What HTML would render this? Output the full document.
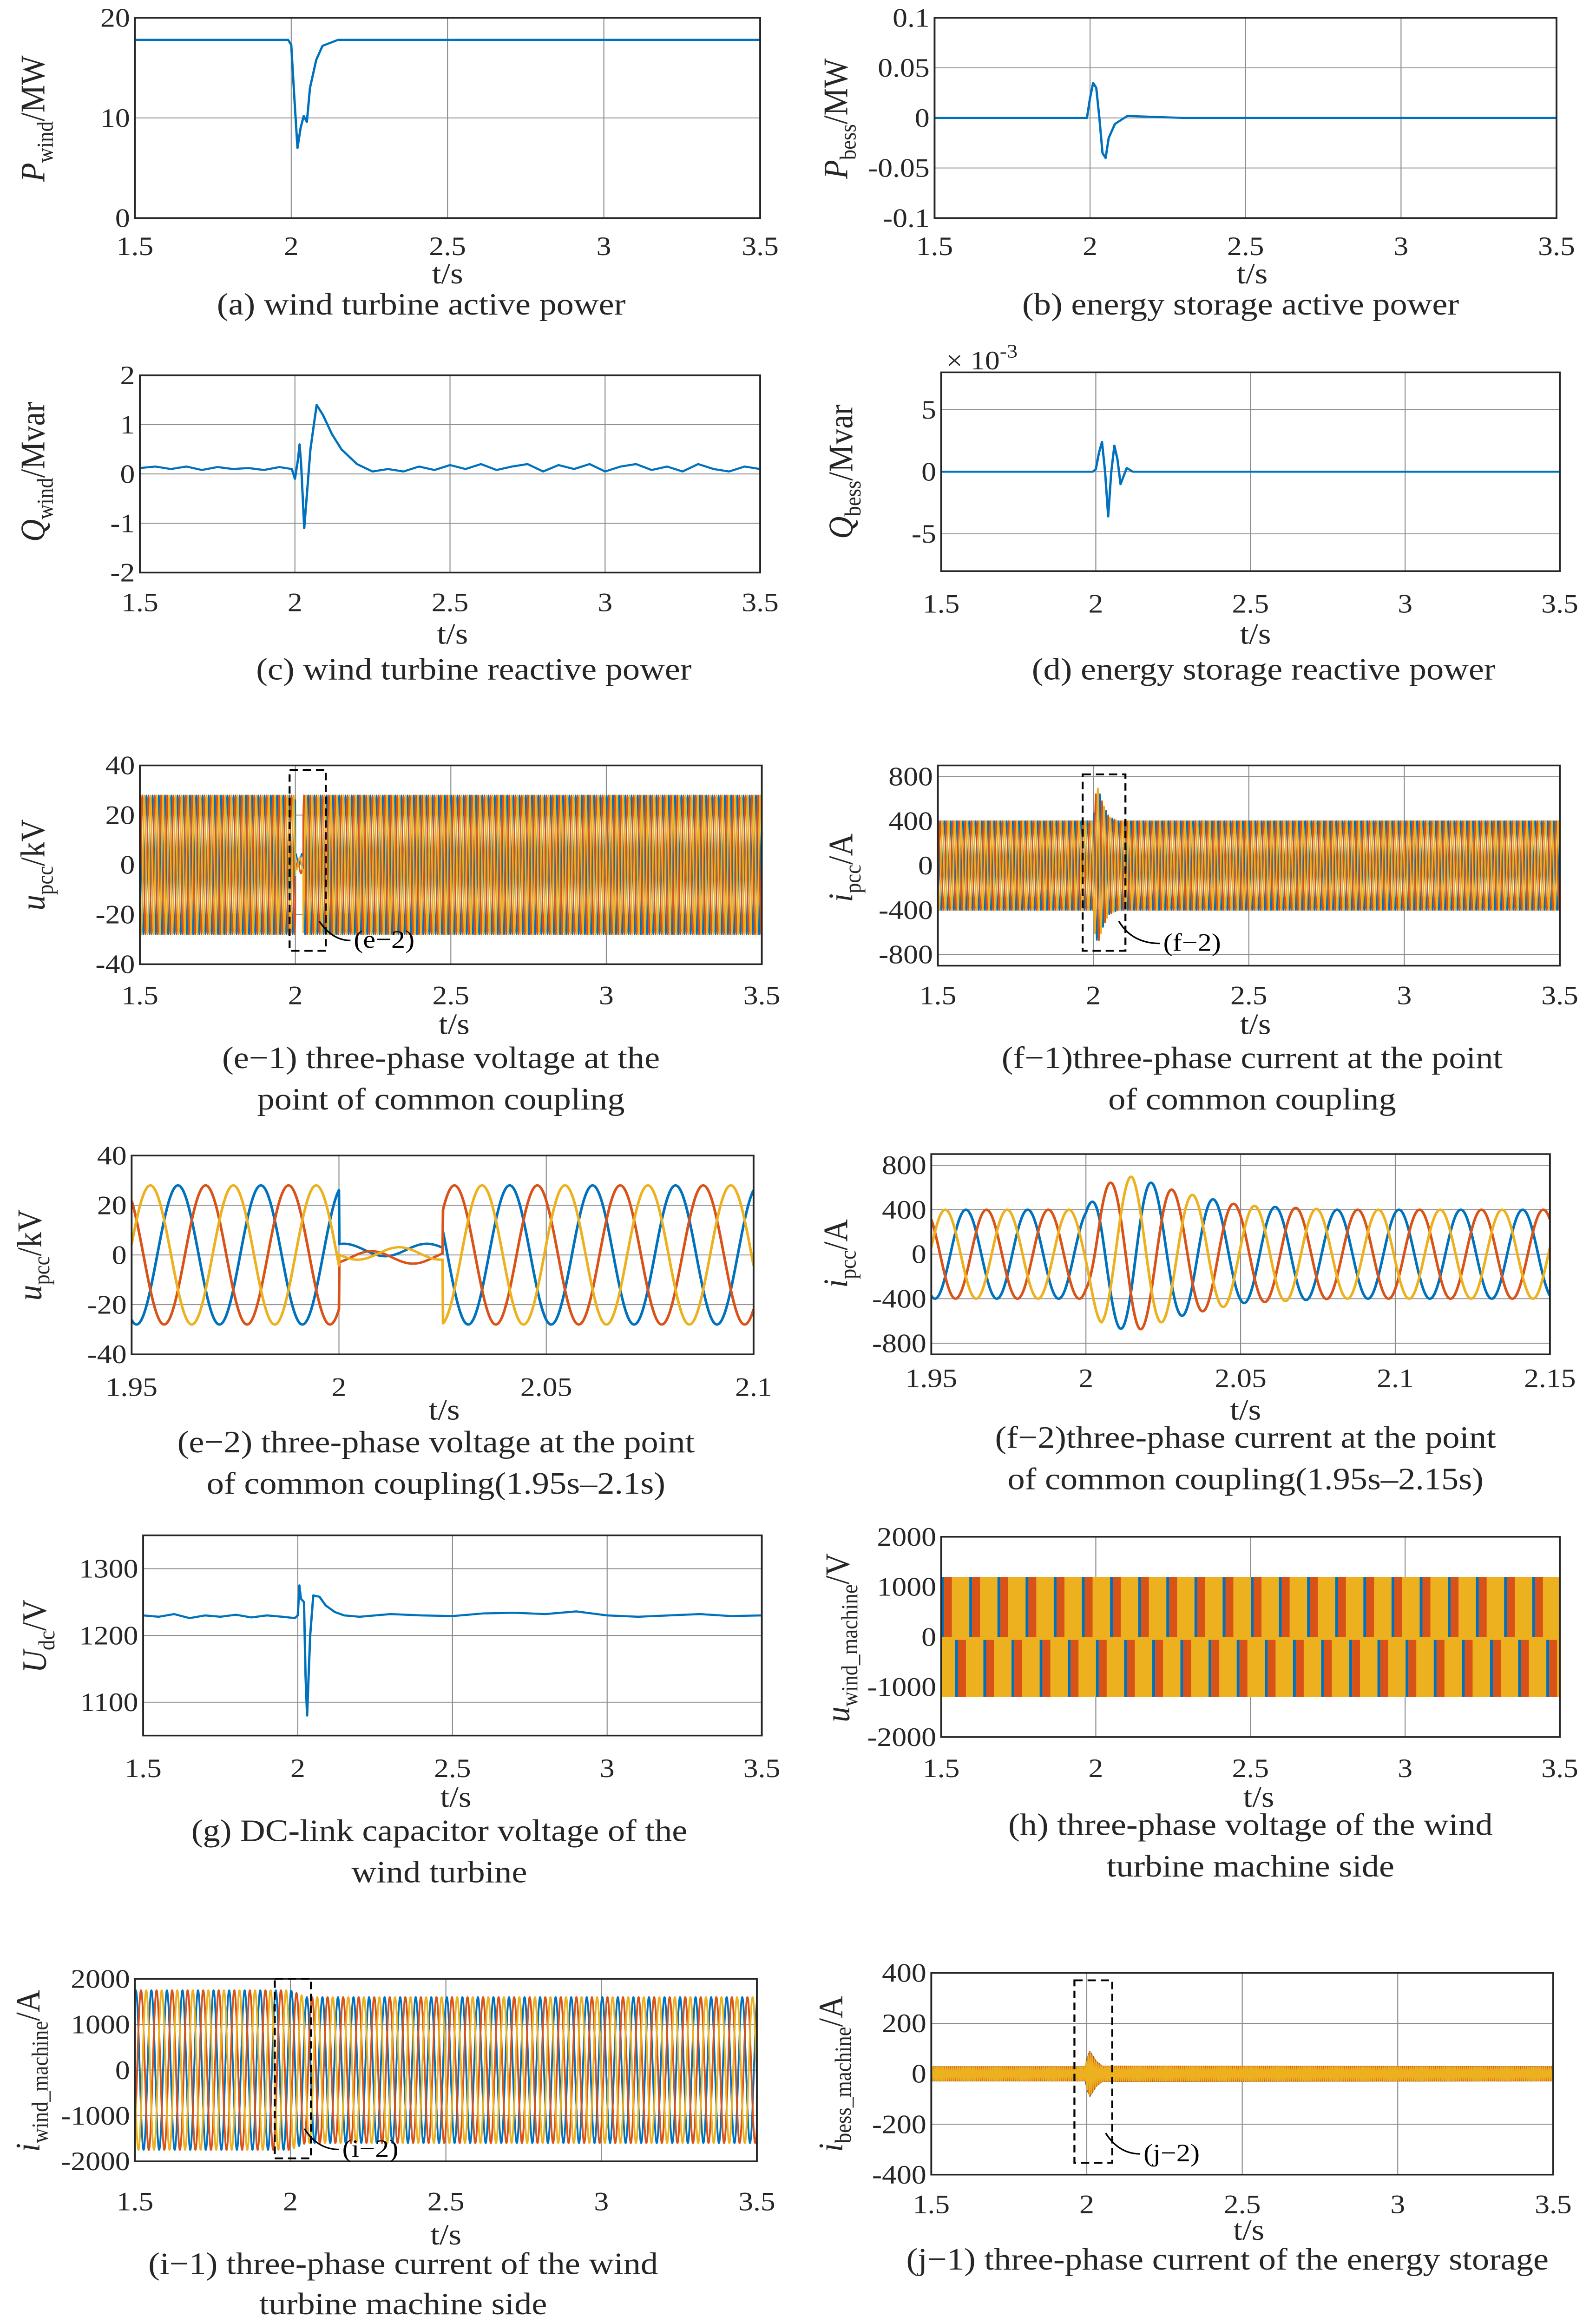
<!DOCTYPE html>
<html><head><meta charset="utf-8"><style>
html,body{margin:0;padding:0;background:#fff;width:100%;height:100%;overflow:hidden}
svg{display:block;position:fixed;left:0;top:0;width:100vw;height:100vh;font-family:"Liberation Serif",serif}
</style></head><body>
<svg id="fig" xmlns="http://www.w3.org/2000/svg" viewBox="0 0 970 1566" preserveAspectRatio="none"></svg>
<script>
// ---------- data ----------
const xTicks15_35 = [1.5, 2, 2.5, 3, 3.5];
const xTicksE2 = [1.95, 2, 2.05, 2.1];
const xTicksF2 = [1.95, 2, 2.05, 2.1, 2.15];
// (a)
const aT = [1.5, 1.99, 2.0, 2.01, 2.02, 2.03, 2.04, 2.05, 2.06, 2.08, 2.1, 2.15, 3.5];
const aV = [17.8, 17.8, 17.3, 12, 7, 9, 10.2, 9.6, 13, 15.8, 17.2, 17.8, 17.8];
// (b)
const bT = [1.5, 1.99, 2.0, 2.01, 2.02, 2.03, 2.04, 2.05, 2.06, 2.08, 2.12, 2.3, 3.5];
const bV = [0, 0, 0.02, 0.035, 0.03, 0, -0.035, -0.04, -0.02, -0.006, 0.002, 0, 0];
// (c)
const cT = [1.5,1.55,1.6,1.65,1.7,1.75,1.8,1.85,1.9,1.95,1.99,2.0,2.01,2.015,2.02,2.03,2.04,2.05,2.07,2.09,2.12,2.15,2.2,2.25,2.3,2.35,2.4,2.45,2.5,2.55,2.6,2.65,2.7,2.75,2.8,2.85,2.9,2.95,3.0,3.05,3.1,3.15,3.2,3.25,3.3,3.35,3.4,3.45,3.5];
const cV = [0.12,0.15,0.1,0.15,0.08,0.14,0.1,0.12,0.08,0.14,0.1,-0.1,0.3,0.6,0.2,-1.1,-0.3,0.5,1.4,1.2,0.8,0.5,0.2,0.05,0.1,0.05,0.15,0.08,0.18,0.1,0.2,0.08,0.15,0.2,0.05,0.18,0.1,0.2,0.05,0.15,0.2,0.08,0.15,0.05,0.2,0.1,0.05,0.15,0.1];
// (d) x 1e-3
const dT = [1.5, 1.99, 2.0, 2.01, 2.02, 2.03, 2.04, 2.05, 2.06, 2.07, 2.08, 2.1, 2.12, 3.5];
const dV = [0, 0, 0.2, 1.5, 2.4, 0, -3.6, 0, 2.1, 1.0, -1.0, 0.3, 0, 0];
// (g)
const gT = [1.5,1.55,1.6,1.65,1.7,1.75,1.8,1.85,1.9,1.95,1.99,2.0,2.005,2.01,2.02,2.025,2.03,2.04,2.05,2.07,2.09,2.12,2.15,2.2,2.3,2.4,2.5,2.6,2.7,2.8,2.9,3.0,3.1,3.2,3.3,3.4,3.5];
const gV = [1230,1228,1232,1226,1230,1228,1231,1227,1230,1228,1226,1230,1275,1255,1250,1140,1080,1200,1260,1258,1245,1235,1230,1228,1232,1230,1229,1233,1234,1232,1236,1230,1228,1230,1232,1229,1230];
// (e) three-phase voltage, kV
const eFreq = 50;
const eAmpT = [1.5, 2.0, 2.0001, 2.025, 2.0251, 3.5];
const eAmpV = [28, 28, 2.5, 2.5, 28, 28];
const eOffV = [0, 0, 2, 2, 0, 0];
// (f) three-phase current, A
const fFreq = 50;
const fAmpT = [1.5, 2.0, 2.005, 2.015, 2.03, 2.05, 2.08, 3.5];
const fAmpV = [400, 400, 620, 700, 560, 440, 400, 400];
// (h) machine voltage stripes
const hLevel = 1200;
const hPeriod = 0.091;
const hBlueFrac = 0.1;
const hOrangeFrac = 0.28;
// (i) machine current
const iFreq = 20;
const iAmpT = [1.5, 2.0, 2.05, 3.5];
const iAmpV = [1750, 1750, 1600, 1600];
// (j) storage current
const jFreq = 150;
const jAmpT = [1.5, 1.995, 2.0, 2.01, 2.03, 2.05, 3.5];
const jAmpV = [28, 28, 60, 90, 50, 30, 28];

// ---------- helpers ----------
const NS = "http://www.w3.org/2000/svg";
const svg = document.getElementById('fig');
const C = ['#0072BD', '#D95319', '#EDB120'];
function mk(tag, attrs, parent) {
  const e = document.createElementNS(NS, tag);
  for (const k in attrs) e.setAttribute(k, attrs[k]);
  (parent || svg).appendChild(e);
  return e;
}
function interp(T, V, t) {
  if (t <= T[0]) return V[0];
  for (let i = 1; i < T.length; i++) if (t <= T[i]) { const f = (t - T[i-1]) / (T[i] - T[i-1]); return V[i-1] + f * (V[i] - V[i-1]); }
  return V[V.length - 1];
}
function fmt(v) { return String(v); }
function panel(o) {
  const g = mk('g', {});
  
  
  const [x0, x1, y0, y1] = o.box;
  const sx = t => x0 + (t - o.xr[0]) / (o.xr[1] - o.xr[0]) * (x1 - x0);
  const sy = v => y1 - (v - o.yr[0]) / (o.yr[1] - o.yr[0]) * (y1 - y0);
  const grid = mk('g', {}, g);
  
  
  o.xt.forEach(t => mk('line', {x1: sx(t), x2: sx(t), y1: y0, y2: y1, stroke: '#8c8c8c', 'stroke-width': 0.6}, grid));
  o.yt.forEach(v => mk('line', {x1: x0, x2: x1, y1: sy(v), y2: sy(v), stroke: '#8c8c8c', 'stroke-width': 0.6}, grid));
  const clipId = 'clip' + o.name;
  const cp = mk('clipPath', {id: clipId}, g);
  mk('rect', {x: x0, y: y0, width: x1 - x0, height: y1 - y0}, cp);
  const plot = mk('g', {'clip-path': 'url(#' + clipId + ')'}, g);
  
  
  o.draw(plot, sx, sy);
  mk('rect', {x: x0, y: y0, width: x1 - x0, height: y1 - y0, fill: 'none', stroke: '#262626', 'stroke-width': 1.1}, g);
  const xl = mk('g', {'font-size': 18, 'text-anchor': 'middle', fill: '#262626'}, g);
  
  
  o.xt.forEach(t => { const tx = mk('text', {x: sx(t), y: o.xty}, xl); tx.textContent = fmt(t); });
  const yl = mk('g', {'font-size': 18, 'text-anchor': 'end', fill: '#262626'}, g);
  
  
  o.yt.forEach((v, i) => { const tx = mk('text', {x: x0 - 3, y: sy(v) + 6}, yl); tx.textContent = o.ytl ? o.ytl[i] : fmt(v); });
  const xt = mk('text', {x: o.xlab[0], y: o.xlab[1], 'font-size': 20, 'text-anchor': 'middle', fill: '#262626'}, g);
  
  
  xt.textContent = 't/s';
  const yt = mk('text', {x: o.ylab[0], y: o.ylab[1], 'font-size': 21, 'text-anchor': 'middle', fill: '#262626', transform: 'rotate(-90 ' + o.ylab[0] + ' ' + o.ylab[1] + ')'}, g);
  
  
  const t1 = mk('tspan', {'font-style': 'italic'}, yt); t1.textContent = o.ysym[0];
  const t2 = mk('tspan', {'font-size': 14, dy: 5}, yt); t2.textContent = o.ysym[1];
  const t3 = mk('tspan', {dy: -5}, yt); t3.textContent = o.ysym[2];
  o.cap.forEach((c, i) => {
    const ct = mk('text', {x: c[0], y: c[1], 'font-size': 21, 'text-anchor': 'middle', fill: '#262626'}, g);
    
    
    ct.textContent = c[2];
  });
  return {g, sx, sy};
}
function keyLine(T, V, color) {
  return (p, sx, sy) => {
    const pts = T.map((t, i) => sx(t).toFixed(2) + ',' + sy(V[i]).toFixed(2)).join(' ');
    const pl = mk('polyline', {points: pts, fill: 'none', stroke: color, 'stroke-width': 1.4, 'stroke-linejoin': 'round'}, p);
    
    
  };
}
function threePhase(freq, ampT, ampV, offV, t0, t1, n, width) {
  return (p, sx, sy) => {
    for (let k = 0; k < 3; k++) {
      const pts = [];
      for (let i = 0; i <= n; i++) {
        const t = t0 + (t1 - t0) * i / n;
        const a = interp(ampT, ampV, t);
        const off = offV ? interp(ampT, offV, t) * (k === 0 ? 1 : k === 1 ? -0.5 : 0.3) : 0;
        const v = a * Math.sin(2 * Math.PI * freq * t - k * 2 * Math.PI / 3 + 1.2) + off;
        pts.push(sx(t).toFixed(2) + ',' + sy(v).toFixed(2));
      }
      const pl = mk('polyline', {points: pts.join(' '), fill: 'none', stroke: C[k], 'stroke-width': width, 'stroke-linejoin': 'round'}, p);
      
      
    }
  };
}
function zoomMark(x, y, w, h, lx, ly, label) {
  const g = mk('g', {});
  
  
  mk('rect', {x, y, width: w, height: h, fill: 'none', stroke: '#000', 'stroke-width': 1.2, 'stroke-dasharray': '5,3'}, g);
  mk('path', {d: 'M' + (x + w - 4) + ' ' + (y + h - 20) + ' Q' + (x + w + 4) + ' ' + (ly - 5) + ' ' + (lx - 2) + ' ' + (ly - 5), fill: 'none', stroke: '#000', 'stroke-width': 1}, g);
  const t = mk('text', {x: lx, y: ly, 'font-size': 17, fill: '#000'}, g);
  t.textContent = label;
}

// ---------- panels ----------
panel({name: 'panel-a', box: [82, 462, 12, 147], xr: [1.5, 3.5], yr: [0, 20], xt: xTicks15_35, yt: [0, 10, 20], xty: 172, xlab: [272, 191], ylab: [27, 80], ysym: ['P', 'wind', '/MW'],
  cap: [[256, 212, '(a) wind turbine active power']], draw: keyLine(aT, aV, C[0])});
panel({name: 'panel-b', box: [568, 946, 12, 147], xr: [1.5, 3.5], yr: [-0.1, 0.1], xt: xTicks15_35, yt: [-0.1, -0.05, 0, 0.05, 0.1], xty: 172, xlab: [761, 191], ylab: [515, 80], ysym: ['P', 'bess', '/MW'],
  cap: [[754, 212, '(b) energy storage active power']], draw: keyLine(bT, bV, C[0])});
panel({name: 'panel-c', box: [85, 462, 253, 386], xr: [1.5, 3.5], yr: [-2, 2], xt: xTicks15_35, yt: [-2, -1, 0, 1, 2], xty: 412, xlab: [275, 434], ylab: [27, 318], ysym: ['Q', 'wind', '/Mvar'],
  cap: [[288, 458, '(c)  wind turbine reactive power']], draw: keyLine(cT, cV, C[0])});
panel({name: 'panel-d', box: [572, 948, 251, 385], xr: [1.5, 3.5], yr: [-8, 8], xt: xTicks15_35, yt: [-5, 0, 5], xty: 413, xlab: [763, 434], ylab: [518, 318], ysym: ['Q', 'bess', '/Mvar'],
  cap: [[768, 458, '(d) energy storage reactive power']], draw: keyLine(dT, dV, C[0])});
{ const t = mk('text', {x: 575, y: 249, 'font-size': 18, fill: '#262626'});  
  t.innerHTML = '× 10<tspan dy="-8" font-size="13">-3</tspan>'; }
panel({name: 'panel-e1', box: [85, 463, 516, 650], xr: [1.5, 3.5], yr: [-40, 40], xt: xTicks15_35, yt: [-40, -20, 0, 20, 40], xty: 677, xlab: [276, 697], ylab: [27, 583], ysym: ['u', 'pcc', '/kV'],
  cap: [[268, 720, '(e−1) three-phase voltage at the'], [268, 748, 'point of common coupling']], draw: threePhase(eFreq, eAmpT, eAmpV, eOffV, 1.5, 3.5, 8000, 0.9)});
zoomMark(176, 519, 22, 122, 215, 639, '(e−2)');
panel({name: 'panel-f1', box: [570, 948, 516, 651], xr: [1.5, 3.5], yr: [-900, 900], xt: xTicks15_35, yt: [-800, -400, 0, 400, 800], xty: 677, xlab: [763, 697], ylab: [518, 585], ysym: ['i', 'pcc', '/A'],
  cap: [[761, 720, '(f−1)three-phase current at the point'], [761, 748, 'of common coupling']], draw: threePhase(fFreq, fAmpT, fAmpV, null, 1.5, 3.5, 8000, 0.9)});
zoomMark(658, 522, 26, 119, 707, 641, '(f−2)');
panel({name: 'panel-e2', box: [80, 458, 779, 913], xr: [1.95, 2.1], yr: [-40, 40], xt: xTicksE2, yt: [-40, -20, 0, 20, 40], xty: 941, xlab: [270, 957], ylab: [25, 846], ysym: ['u', 'pcc', '/kV'],
  cap: [[265, 979, '(e−2) three-phase voltage at the point'], [265, 1007, 'of common coupling(1.95s–2.1s)']], draw: threePhase(eFreq, eAmpT, eAmpV, eOffV, 1.95, 2.1, 1500, 1.6)});
panel({name: 'panel-f2', box: [566, 942, 778, 913], xr: [1.95, 2.15], yr: [-900, 900], xt: xTicksF2, yt: [-800, -400, 0, 400, 800], xty: 935, xlab: [757, 957], ylab: [515, 845], ysym: ['i', 'pcc', '/A'],
  cap: [[757, 976, '(f−2)three-phase current at the point'], [757, 1004, 'of common coupling(1.95s–2.15s)']], draw: threePhase(fFreq, fAmpT, fAmpV, null, 1.95, 2.15, 2000, 1.6)});
panel({name: 'panel-g', box: [87, 463, 1035, 1170], xr: [1.5, 3.5], yr: [1050, 1350], xt: xTicks15_35, yt: [1100, 1200, 1300], xty: 1198, xlab: [277, 1218], ylab: [28, 1103], ysym: ['U', 'dc', '/V'],
  cap: [[267, 1241, '(g) DC-link capacitor voltage of the'], [267, 1269, 'wind turbine']], draw: keyLine(gT, gV, C[0])});
panel({name: 'panel-h', box: [572, 948, 1036, 1171], xr: [1.5, 3.5], yr: [-2000, 2000], xt: xTicks15_35, yt: [-2000, -1000, 0, 1000, 2000], xty: 1198, xlab: [765, 1218], ylab: [516, 1104], ysym: ['u', 'wind_machine', '/V'],
  cap: [[760, 1237, '(h) three-phase voltage of the wind'], [760, 1265, 'turbine machine side']],
  draw: (p, sx, sy) => {
    const yTop = sy(hLevel), y0 = sy(0), yBot = sy(-hLevel);
    mk('rect', {x: sx(1.5), y: yTop, width: sx(3.5) - sx(1.5), height: yBot - yTop, fill: C[2]}, p);
    for (let t = 1.5; t < 3.5; t += hPeriod) {
      const w = sx(t + hPeriod) - sx(t);
      mk('rect', {x: sx(t), y: yTop, width: w * hBlueFrac, height: y0 - yTop, fill: C[0]}, p);
      mk('rect', {x: sx(t) + w * hBlueFrac, y: yTop, width: w * hOrangeFrac, height: y0 - yTop, fill: C[1]}, p);
      mk('rect', {x: sx(t) + w * 0.5, y: y0 + 2, width: w * hBlueFrac, height: yBot - y0 - 2, fill: C[0]}, p);
      mk('rect', {x: sx(t) + w * (0.5 + hBlueFrac), y: y0 + 2, width: w * hOrangeFrac, height: yBot - y0 - 2, fill: C[1]}, p);
    }
  }});
panel({name: 'panel-i1', box: [82, 460, 1334, 1457], xr: [1.5, 3.5], yr: [-2000, 2000], xt: xTicks15_35, yt: [-2000, -1000, 0, 1000, 2000], xty: 1490, xlab: [271, 1513], ylab: [24, 1396], ysym: ['i', 'wind_machine', '/A'],
  ytl: ['-2000', '-1000', '0', '1000', '2000'],
  cap: [[245, 1533, '(i−1) three-phase current of the wind'], [245, 1560, 'turbine machine side']], draw: threePhase(iFreq, iAmpT, iAmpV, null, 1.5, 3.5, 4000, 1.1)});
zoomMark(167, 1334, 22, 121, 208, 1454, '(i−2)');
panel({name: 'panel-j1', box: [566, 944, 1330, 1466], xr: [1.5, 3.5], yr: [-400, 400], xt: xTicks15_35, yt: [-400, -200, 0, 200, 400], xty: 1492, xlab: [759, 1510], ylab: [512, 1398], ysym: ['i', 'bess_machine', '/A'],
  cap: [[746, 1530, '(j−1) three-phase current of the energy storage']], draw: threePhase(jFreq, jAmpT, jAmpV, null, 1.5, 3.5, 9000, 0.8)});
zoomMark(653, 1335, 23, 123, 695, 1457, '(j−2)');
</script>
</body></html>
